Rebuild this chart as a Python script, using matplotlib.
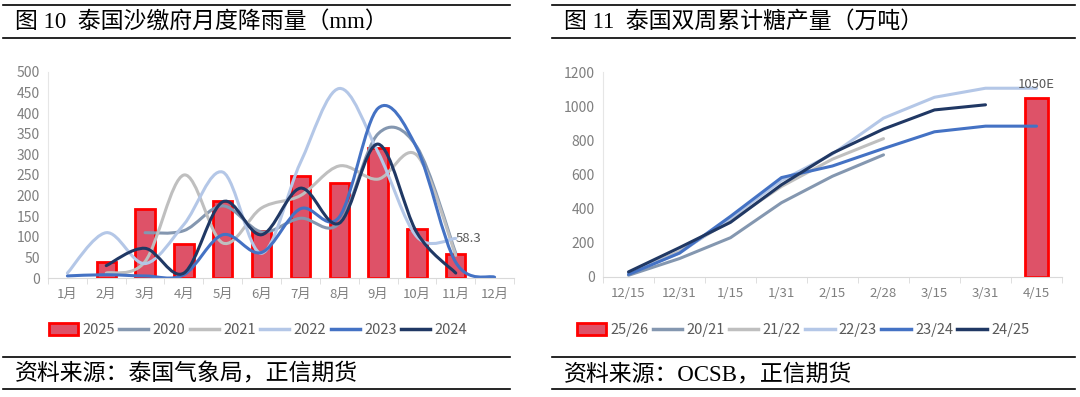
import numpy as np
import matplotlib.pyplot as plt
from matplotlib.path import Path
from matplotlib.patches import PathPatch, Patch
from matplotlib.lines import Line2D

plt.rcParams['font.family'] = ['Noto Sans CJK SC', 'DejaVu Sans']

# ---- left chart: monthly rainfall, Sa Kaeo (mm) ----
months = ['1月', '2月', '3月', '4月', '5月', '6月', '7月', '8月', '9月', '10月', '11月', '12月']
rain_2025 = [np.nan, 40, 168, 82, 188, 115, 248, 230, 315, 118, 58.3, np.nan]
rain_2020 = [np.nan, np.nan, 110, 115, 175, 112, 145, 133, 350, 318, 60, np.nan]
rain_2021 = [np.nan, 12, 40, 250, 85, 170, 200, 272, 240, 298, 55, np.nan]
rain_2022 = [12, 110, 35, 130, 257, 60, 280, 460, 305, 100, 96, np.nan]
rain_2023 = [5, 8, 5, 8, 105, 62, 168, 148, 412, 315, 38, 2]
rain_2024 = [np.nan, 30, 72, 12, 185, 105, 218, 133, 325, 110, 12, np.nan]

# ---- right chart: Thai bi-weekly cumulative sugar output (10k t) ----
periods = ['12/15', '12/31', '1/15', '1/31', '2/15', '2/28', '3/15', '3/31', '4/15']
sugar_2526 = [np.nan] * 8 + [1050]
sugar_2021 = [10, 108, 230, 435, 590, 715, np.nan, np.nan, np.nan]
sugar_2122 = [20, 150, 330, 530, 690, 810, np.nan, np.nan, np.nan]
sugar_2223 = [20, 140, 345, 565, 720, 930, 1052, 1105, 1105]
sugar_2324 = [15, 140, 355, 582, 650, 752, 850, 883, 883]
sugar_2425 = [30, 172, 320, 540, 725, 866, 978, 1008, np.nan]

C_BAR, C_EDGE = '#DE5268', '#FF0000'
COLORS = ['#8497B0', '#BFBFBF', '#B4C7E7', '#4472C4', '#203864']
TICK_C = '#7F7F7F'
TXT_C = '#595959'


def smooth_line(ax, y, color, lw=2.2):
    # Excel-style smoothed line: cubic bezier through the data points
    x = np.arange(len(y), dtype=float)
    y = np.asarray(y, dtype=float)
    ok = ~np.isnan(y)
    pts = np.column_stack([x[ok], y[ok]])
    n = len(pts)
    verts = [pts[0]]
    codes = [Path.MOVETO]
    for i in range(n - 1):
        p0 = pts[max(i - 1, 0)]
        p1, p2 = pts[i], pts[i + 1]
        p3 = pts[min(i + 2, n - 1)]
        verts += [p1 + (p2 - p0) / 6, p2 - (p3 - p1) / 6, p2]
        codes += [Path.CURVE4] * 3
    ax.add_patch(PathPatch(Path(verts, codes), fill=False, edgecolor=color,
                           lw=lw, capstyle='round', joinstyle='round'))


def style_axes(ax, n, ymax, step):
    ax.set_xlim(-0.5, n - 0.5)
    ax.set_ylim(0, ymax)
    ax.set_yticks(np.arange(0, ymax + 1, step))
    for s in ['top', 'right']:
        ax.spines[s].set_visible(False)
    ax.spines['left'].set_color('#E6E6E6')
    ax.spines['bottom'].set_color('#D9D9D9')
    ax.tick_params(axis='y', length=0, labelsize=10, labelcolor=TICK_C, pad=6)
    ax.tick_params(axis='x', length=0, labelsize=9.5, labelcolor=TICK_C, pad=7)
    ax.set_xticks(np.arange(-0.5, n, 1.0), minor=True)
    ax.tick_params(axis='x', which='minor', length=4, color='#D9D9D9', direction='out')


fig = plt.figure(figsize=(10.8, 3.97), dpi=100)

# left panel
ax1 = fig.add_axes([48 / 1080, 119 / 397, 466 / 1080, 206 / 397])
xm = np.arange(len(months))
ax1.bar(xm, rain_2025, width=0.5, color=C_BAR, edgecolor=C_EDGE, lw=2, zorder=1)
for ser, c in zip([rain_2020, rain_2021, rain_2022, rain_2023, rain_2024], COLORS):
    smooth_line(ax1, ser, c)
style_axes(ax1, len(months), 500, 50)
ax1.set_xticks(xm)
ax1.set_xticklabels(months)
ax1.text(10, rain_2022[10], f'{rain_2025[10]:.1f}', ha='left', va='center',
         fontsize=9.5, color=TXT_C, zorder=5)

# right panel
ax2 = fig.add_axes([603 / 1080, 120 / 397, 459 / 1080, 205 / 397])
xp = np.arange(len(periods))
ax2.bar(xp, sugar_2526, width=0.45, color=C_BAR, edgecolor=C_EDGE, lw=2, zorder=1)
for ser, c in zip([sugar_2021, sugar_2122, sugar_2223, sugar_2324, sugar_2425], COLORS):
    ax2.plot(xp, ser, color=c, lw=2.2, solid_capstyle='round')
style_axes(ax2, len(periods), 1200, 200)
ax2.set_xticks(xp)
ax2.set_xticklabels(periods)
ax2.text(8, sugar_2526[8] + 40, f'{sugar_2526[8]:.0f}E', ha='center', va='bottom',
         fontsize=9.5, color=TXT_C)

# legends
def legend(labels, cx):
    handles = [Patch(facecolor=C_BAR, edgecolor=C_EDGE, lw=2)]
    handles += [Line2D([], [], color=c, lw=2.5) for c in COLORS]
    fig.legend(handles, labels, loc='center', bbox_to_anchor=(cx / 1080, 1 - 330 / 397),
               ncol=6, frameon=False, fontsize=10.5, labelcolor=TXT_C,
               handlelength=2.0, handleheight=0.9, handletextpad=0.3, columnspacing=0.3)

legend(['2025', '2020', '2021', '2022', '2023', '2024'], 258)
legend(['25/26', '20/21', '21/22', '22/23', '23/24', '24/25'], 803)

# headers, rules and source lines
serif = ['Liberation Serif', 'Noto Sans CJK SC']
for x0, x1, title, src in [
    (3, 510, '图 10  泰国沙缴府月度降雨量（mm）', '资料来源：泰国气象局，正信期货'),
    (552, 1075, '图 11  泰国双周累计糖产量（万吨）', '资料来源：OCSB，正信期货'),
]:
    for yy in [5, 38, 357, 389]:
        fig.add_artist(Line2D([x0 / 1080, x1 / 1080], [1 - yy / 397] * 2,
                              color='black', lw=1.2))
    fig.text((x0 + 12) / 1080, 1 - 22 / 397, title, fontsize=16.5, family=serif,
             va='center', ha='left')
    fig.text((x0 + 12) / 1080, 1 - 374 / 397, src, fontsize=16.5, family=serif,
             va='center', ha='left')

fig.savefig('out.png', dpi=100)
